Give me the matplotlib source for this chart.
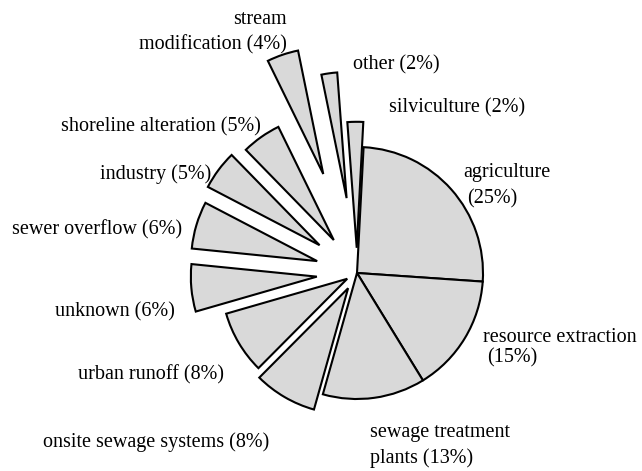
import matplotlib
matplotlib.use('Agg')
import matplotlib.pyplot as plt

# Sources of pollution, share in percent (clockwise from the top)
sources = ['agriculture', 'resource extraction', 'sewage treatment plants',
           'onsite sewage systems', 'urban runoff', 'unknown', 'sewer overflow',
           'industry', 'shoreline alteration', 'stream modification', 'other',
           'silviculture']
shares = [25, 15, 13, 8, 8, 6, 6, 5, 5, 4, 2, 2]
explode = [0, 0, 0, 0.14, 0.09, 0.32, 0.33, 0.37, 0.32, 0.83, 0.6, 0.2]

# label lines: (text, x px, y px, ha)
labels = [
    ('stream', 287, 20, 'right'),
    ('modification (4%)', 287, 45, 'right'),
    ('other (2%)', 353, 65, 'left'),
    ('silviculture (2%)', 389, 108, 'left'),
    ('agriculture', 463, 173, 'left'),
    ('(25%)', 467, 199, 'left'),
    ('shoreline alteration (5%)', 61, 127, 'left'),
    ('industry (5%)', 100, 174, 'left'),
    ('sewer overflow (6%)', 12, 230, 'left'),
    ('unknown (6%)', 55, 312, 'left'),
    ('urban runoff (8%)', 78, 375, 'left'),
    ('onsite sewage systems (8%)', 43, 442, 'left'),
    ('resource extraction', 483, 338, 'left'),
    ('(15%)', 487, 358, 'left'),
    ('sewage treatment', 370, 432, 'left'),
    ('plants (13%)', 370, 458, 'left'),
]

W, H = 642, 471
cx, cy, R = 357, 273, 126.0


def to_data(x, y):
    return (x - cx) / R, (cy - y) / R


plt.rcParams['font.family'] = ['Liberation Serif', 'DejaVu Serif']

fig = plt.figure(figsize=(W / 100, H / 100), dpi=100)
ax = fig.add_axes([0, 0, 1, 1])
ax.pie(shares, explode=explode, startangle=87, counterclock=False,
       colors=['#d9d9d9'] * len(shares),
       wedgeprops=dict(edgecolor='black', linewidth=1.5))
ax.set_aspect('equal')
x0, y1 = to_data(0, 0)
x1, y0 = to_data(W, H)
ax.set_xlim(x0, x1)
ax.set_ylim(y0, y1)
ax.axis('off')

for txt, x, y, ha in labels:
    tx, ty = to_data(x, y)
    ax.text(tx, ty, txt, ha=ha, va='center', fontsize=14.5, color='black')

fig.savefig('out.png', dpi=100)
